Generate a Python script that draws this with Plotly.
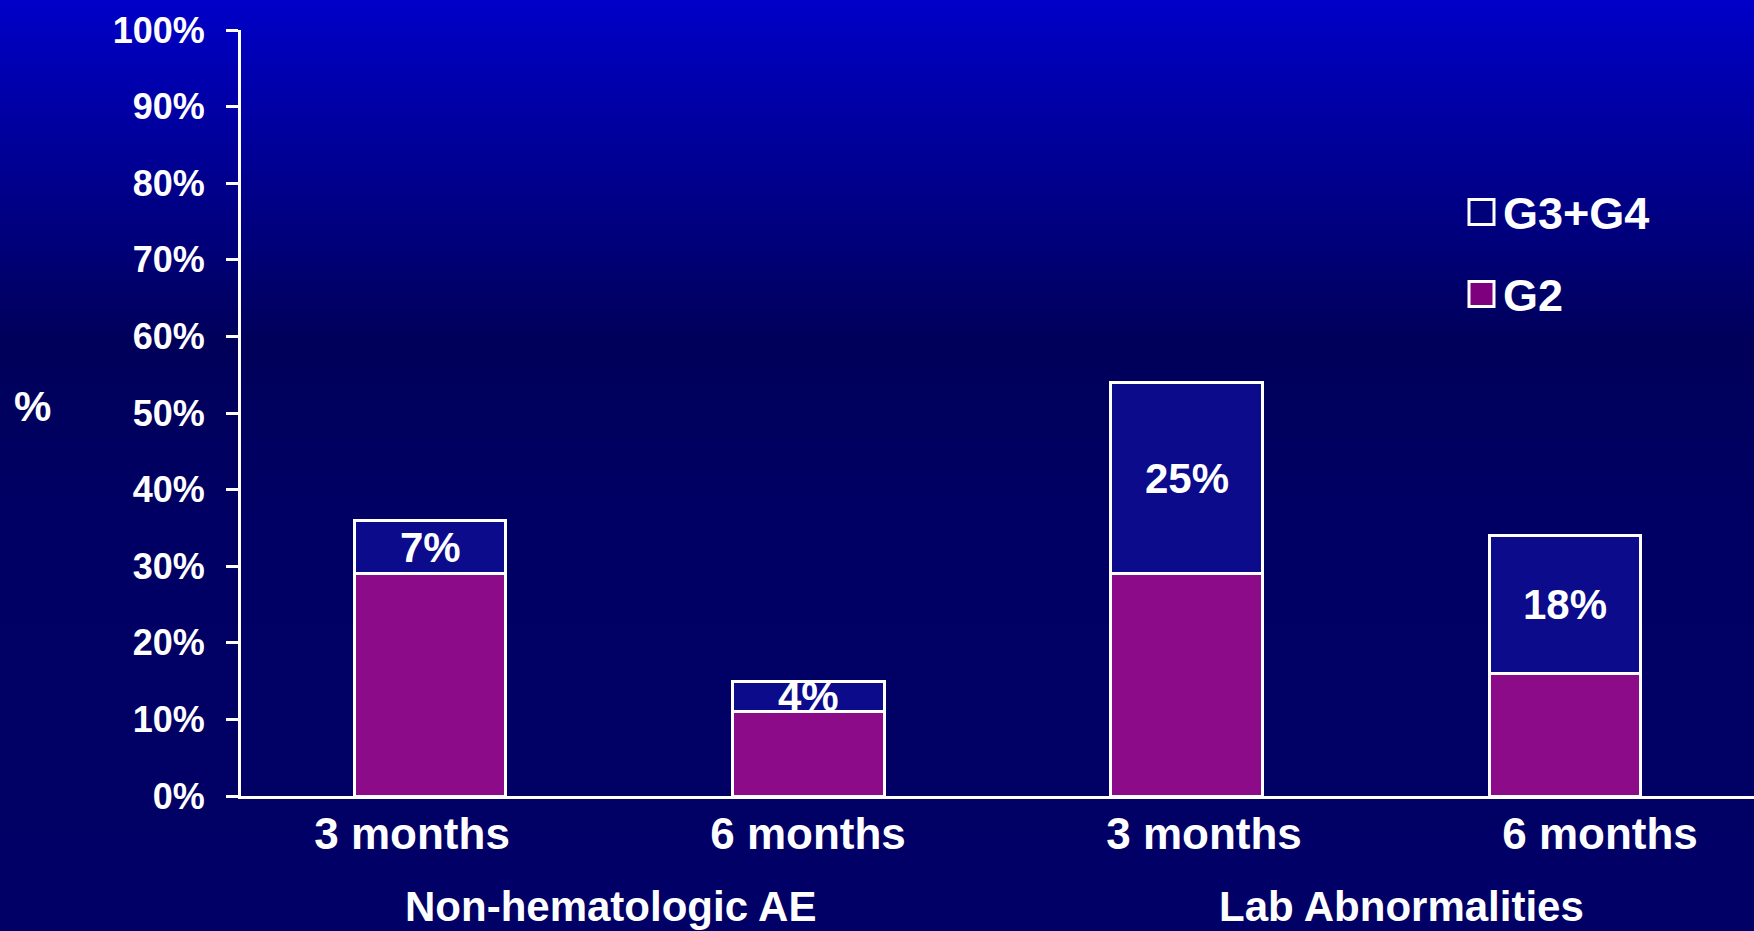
import plotly.graph_objects as go

# Adverse events by grade, stacked per time point
time_points = ["3 months", "6 months", "3 months", "6 months"]
groups = ["Non-hematologic AE", "Lab Abnormalities"]
g2 = [29, 11, 29, 16]
g3_g4 = [7, 4, 25, 18]
y_ticks = [0, 10, 20, 30, 40, 50, 60, 70, 80, 90, 100]

x_pos = list(range(len(time_points)))
group_pos = [0.5, 2.5]

# figure geometry (pixels)
W, H = 1754, 931
M_L, M_R, M_T, M_B = 241, 0, 30, 135
PW, PH = W - M_L - M_R, H - M_T - M_B

FONT = "Liberation Sans, Arial, sans-serif"

fig = go.Figure()
fig.add_trace(go.Bar(
    x=x_pos, y=g2, name="G2", width=0.40,
    marker=dict(color="#8B0B88", line=dict(color="white", width=3)),
    hoverinfo="skip",
))
fig.add_trace(go.Bar(
    x=x_pos, y=g3_g4, name="G3+G4", width=0.40,
    marker=dict(color="#0B0B8C", line=dict(color="white", width=3)),
    hoverinfo="skip",
))
# carrier for the category label axis (draws nothing)
fig.add_trace(go.Scatter(
    x=x_pos, y=[None] * len(x_pos), xaxis="x2", mode="markers",
    showlegend=False, hoverinfo="skip",
))

# value labels centred in the G3+G4 segments
for xi, a, b in zip(x_pos, g2, g3_g4):
    fig.add_annotation(
        x=xi, y=a + b / 2, text=f"<b>{b}%</b>", showarrow=False,
        font=dict(family=FONT, size=42, color="white"),
        xanchor="center", yanchor="middle",
    )

# group labels centred under their pair of time points
for gx, label in zip(group_pos, groups):
    fig.add_annotation(
        x=gx, y=0, xref="x2", yref="paper", yshift=-(906 - 796),
        text=f"<b>{label}</b>", showarrow=False,
        font=dict(family=FONT, size=42, color="white"),
        xanchor="center", yanchor="middle",
    )

# y axis title
fig.add_annotation(
    x=(33 - M_L) / PW, y=(796 - 406) / PH, xref="paper", yref="paper",
    text="<b>%</b>", showarrow=False,
    font=dict(family=FONT, size=42, color="white"),
    xanchor="center", yanchor="middle",
)

# background: vertical gradient built from thin strips
def px_to_py(p):
    return (H - M_B - p) / PH

def bg_blue(p):
    stops = [(0, 200), (340, 90), (520, 100), (H, 102)]
    for (p0, c0), (p1, c1) in zip(stops[:-1], stops[1:]):
        if p0 <= p <= p1:
            return round(c0 + (c1 - c0) * (p - p0) / (p1 - p0))
    return stops[-1][1]

shapes = []
step = 3
for p in range(0, H, step):
    shapes.append(dict(
        type="rect", xref="paper", yref="paper", layer="below",
        x0=-M_L / PW - 0.01, x1=1.01,
        y0=px_to_py(p + step + 0.5), y1=px_to_py(p),
        fillcolor=f"rgb(0,0,{bg_blue(p + step / 2)})", line=dict(width=0),
    ))

# legend drawn as swatches and labels
legend_items = [("G3+G4", "#00007A", 212), ("G2", "#7F007F", 294)]
for name, col, cy in legend_items:
    shapes.append(dict(
        type="rect", xref="paper", yref="paper", layer="above",
        x0=(1469 - M_L) / PW, x1=(1494 - M_L) / PW,
        y0=px_to_py(cy + 12.5), y1=px_to_py(cy - 12.5),
        fillcolor=col, line=dict(color="white", width=3),
    ))
    fig.add_annotation(
        x=(1501 - M_L) / PW, y=px_to_py(cy + 1), xref="paper", yref="paper",
        text=f"<b>{name}</b>", showarrow=False,
        font=dict(family=FONT, size=45, color="white"),
        xanchor="left", yanchor="middle",
    )

fig.update_layout(
    width=W, height=H,
    margin=dict(l=M_L, r=M_R, t=M_T, b=M_B, pad=0),
    barmode="stack",
    showlegend=False,
    paper_bgcolor="#000066",
    plot_bgcolor="rgba(0,0,0,0)",
    shapes=shapes,
    xaxis=dict(
        range=[-0.5, 3.5], showticklabels=False,
        showline=True, linecolor="white", linewidth=3,
        showgrid=False, zeroline=False, ticks="", fixedrange=True,
    ),
    xaxis2=dict(
        overlaying="x", anchor="y", side="bottom",
        range=[-0.432, 3.389], tickvals=x_pos,
        ticktext=[f"<b>{t}</b>" for t in time_points],
        tickfont=dict(family=FONT, size=44, color="white"),
        showline=False, showgrid=False, zeroline=False, ticks="",
        ticklabelstandoff=8, fixedrange=True,
    ),
    yaxis=dict(
        range=[0, 100], tickvals=y_ticks,
        ticktext=[f"<b>{v}%</b>" for v in y_ticks],
        tickfont=dict(family=FONT, size=36, color="white"),
        showline=True, linecolor="white", linewidth=3,
        ticks="outside", ticklen=12, tickwidth=3, tickcolor="white",
        ticklabelstandoff=14,
        showgrid=False, zeroline=False, fixedrange=True,
    ),
)

fig.write_html("out.html", config={"displayModeBar": False})
